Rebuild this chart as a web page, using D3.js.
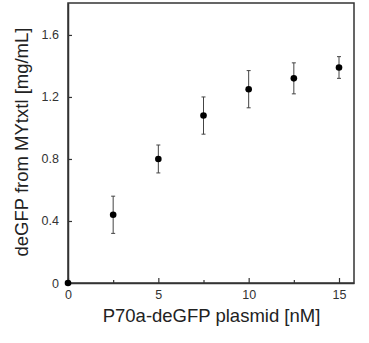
<!DOCTYPE html>
<html><head><meta charset="utf-8">
<script src="https://cdn.jsdelivr.net/npm/d3@7"></script>
<style>html,body{margin:0;padding:0;background:#fff;}</style>
</head><body>
<svg id="c" width="369" height="343"></svg>
<script>
const xValues = [0, 2.5, 5, 7.5, 10, 12.5, 15];
const yValues = [0, 0.44, 0.80, 1.08, 1.25, 1.32, 1.39];
const yErrors = [0, 0.12, 0.09, 0.12, 0.12, 0.10, 0.07];
const xTicks = [0, 5, 10, 15];
const xMinorTicks = [2.5, 7.5, 12.5];
const yTicks = [0, 0.4, 0.8, 1.2, 1.6];
const xTitle = "P70a-deGFP plasmid [nM]";
const yTitle = "deGFP from MYtxtl [mg/mL]";

const svg = d3.select("#c");
const L = 68, R = 354, T = 3, B = 283;
const x = d3.scaleLinear().domain([0, 15.83]).range([L, R]);
const y = d3.scaleLinear().domain([0, 1.806]).range([B, T]);
const axisColor = "#333";
const font = "Liberation Sans, Arial, sans-serif";

// frame
svg.append("rect").attr("x", L).attr("y", T).attr("width", R - L).attr("height", B - T)
  .attr("fill", "none").attr("stroke", axisColor).attr("stroke-width", 1.5);

svg.append("g").attr("transform", `translate(0,${B})`)
  .call(d3.axisBottom(x).tickValues(xTicks).tickSizeInner(-5).tickSizeOuter(0).tickPadding(7).tickFormat(d3.format("d")));
svg.append("g").attr("transform", `translate(0,${B})`)
  .call(d3.axisBottom(x).tickValues(xMinorTicks).tickSizeInner(-3).tickSizeOuter(0).tickFormat(""))
  .call(g => g.select(".domain").remove());
svg.append("g").attr("transform", `translate(${L},0)`)
  .call(d3.axisLeft(y).tickValues(yTicks).tickSizeInner(-4).tickSizeOuter(0).tickPadding(9).tickFormat(d => d === 0 ? "0" : d3.format(".1f")(d)));
svg.selectAll(".domain").attr("stroke", axisColor).attr("stroke-width", 1.5);
svg.selectAll(".tick line").attr("stroke", axisColor).attr("stroke-width", 1.2);
svg.selectAll(".tick text").attr("fill", "#333").attr("font-family", font).attr("font-size", 12.5);

// titles
svg.append("text").attr("x", 211.5).attr("y", 322).attr("text-anchor", "middle")
  .attr("font-family", font).attr("font-size", 18.5).attr("fill", "#222").text(xTitle);
svg.append("text").attr("transform", `translate(28,142) rotate(-90)`).attr("text-anchor", "middle")
  .attr("font-family", font).attr("font-size", 18.5).attr("fill", "#222").text(yTitle);

// error bars
const data = xValues.map((v, i) => ({x: v, y: yValues[i], e: yErrors[i]}));
const eb = svg.append("g").selectAll("g").data(data.filter(d => d.e > 0)).join("g").attr("stroke", "#444").attr("stroke-width", 1);
eb.append("line").attr("x1", d => x(d.x)).attr("x2", d => x(d.x)).attr("y1", d => y(d.y - d.e)).attr("y2", d => y(d.y + d.e));
eb.append("line").attr("x1", d => x(d.x) - 2).attr("x2", d => x(d.x) + 2).attr("y1", d => y(d.y - d.e)).attr("y2", d => y(d.y - d.e));
eb.append("line").attr("x1", d => x(d.x) - 2).attr("x2", d => x(d.x) + 2).attr("y1", d => y(d.y + d.e)).attr("y2", d => y(d.y + d.e));

svg.append("g").selectAll("circle").data(data).join("circle")
  .attr("cx", d => x(d.x)).attr("cy", d => y(d.y)).attr("r", 3.3).attr("fill", "#000");
</script>
</body></html>
